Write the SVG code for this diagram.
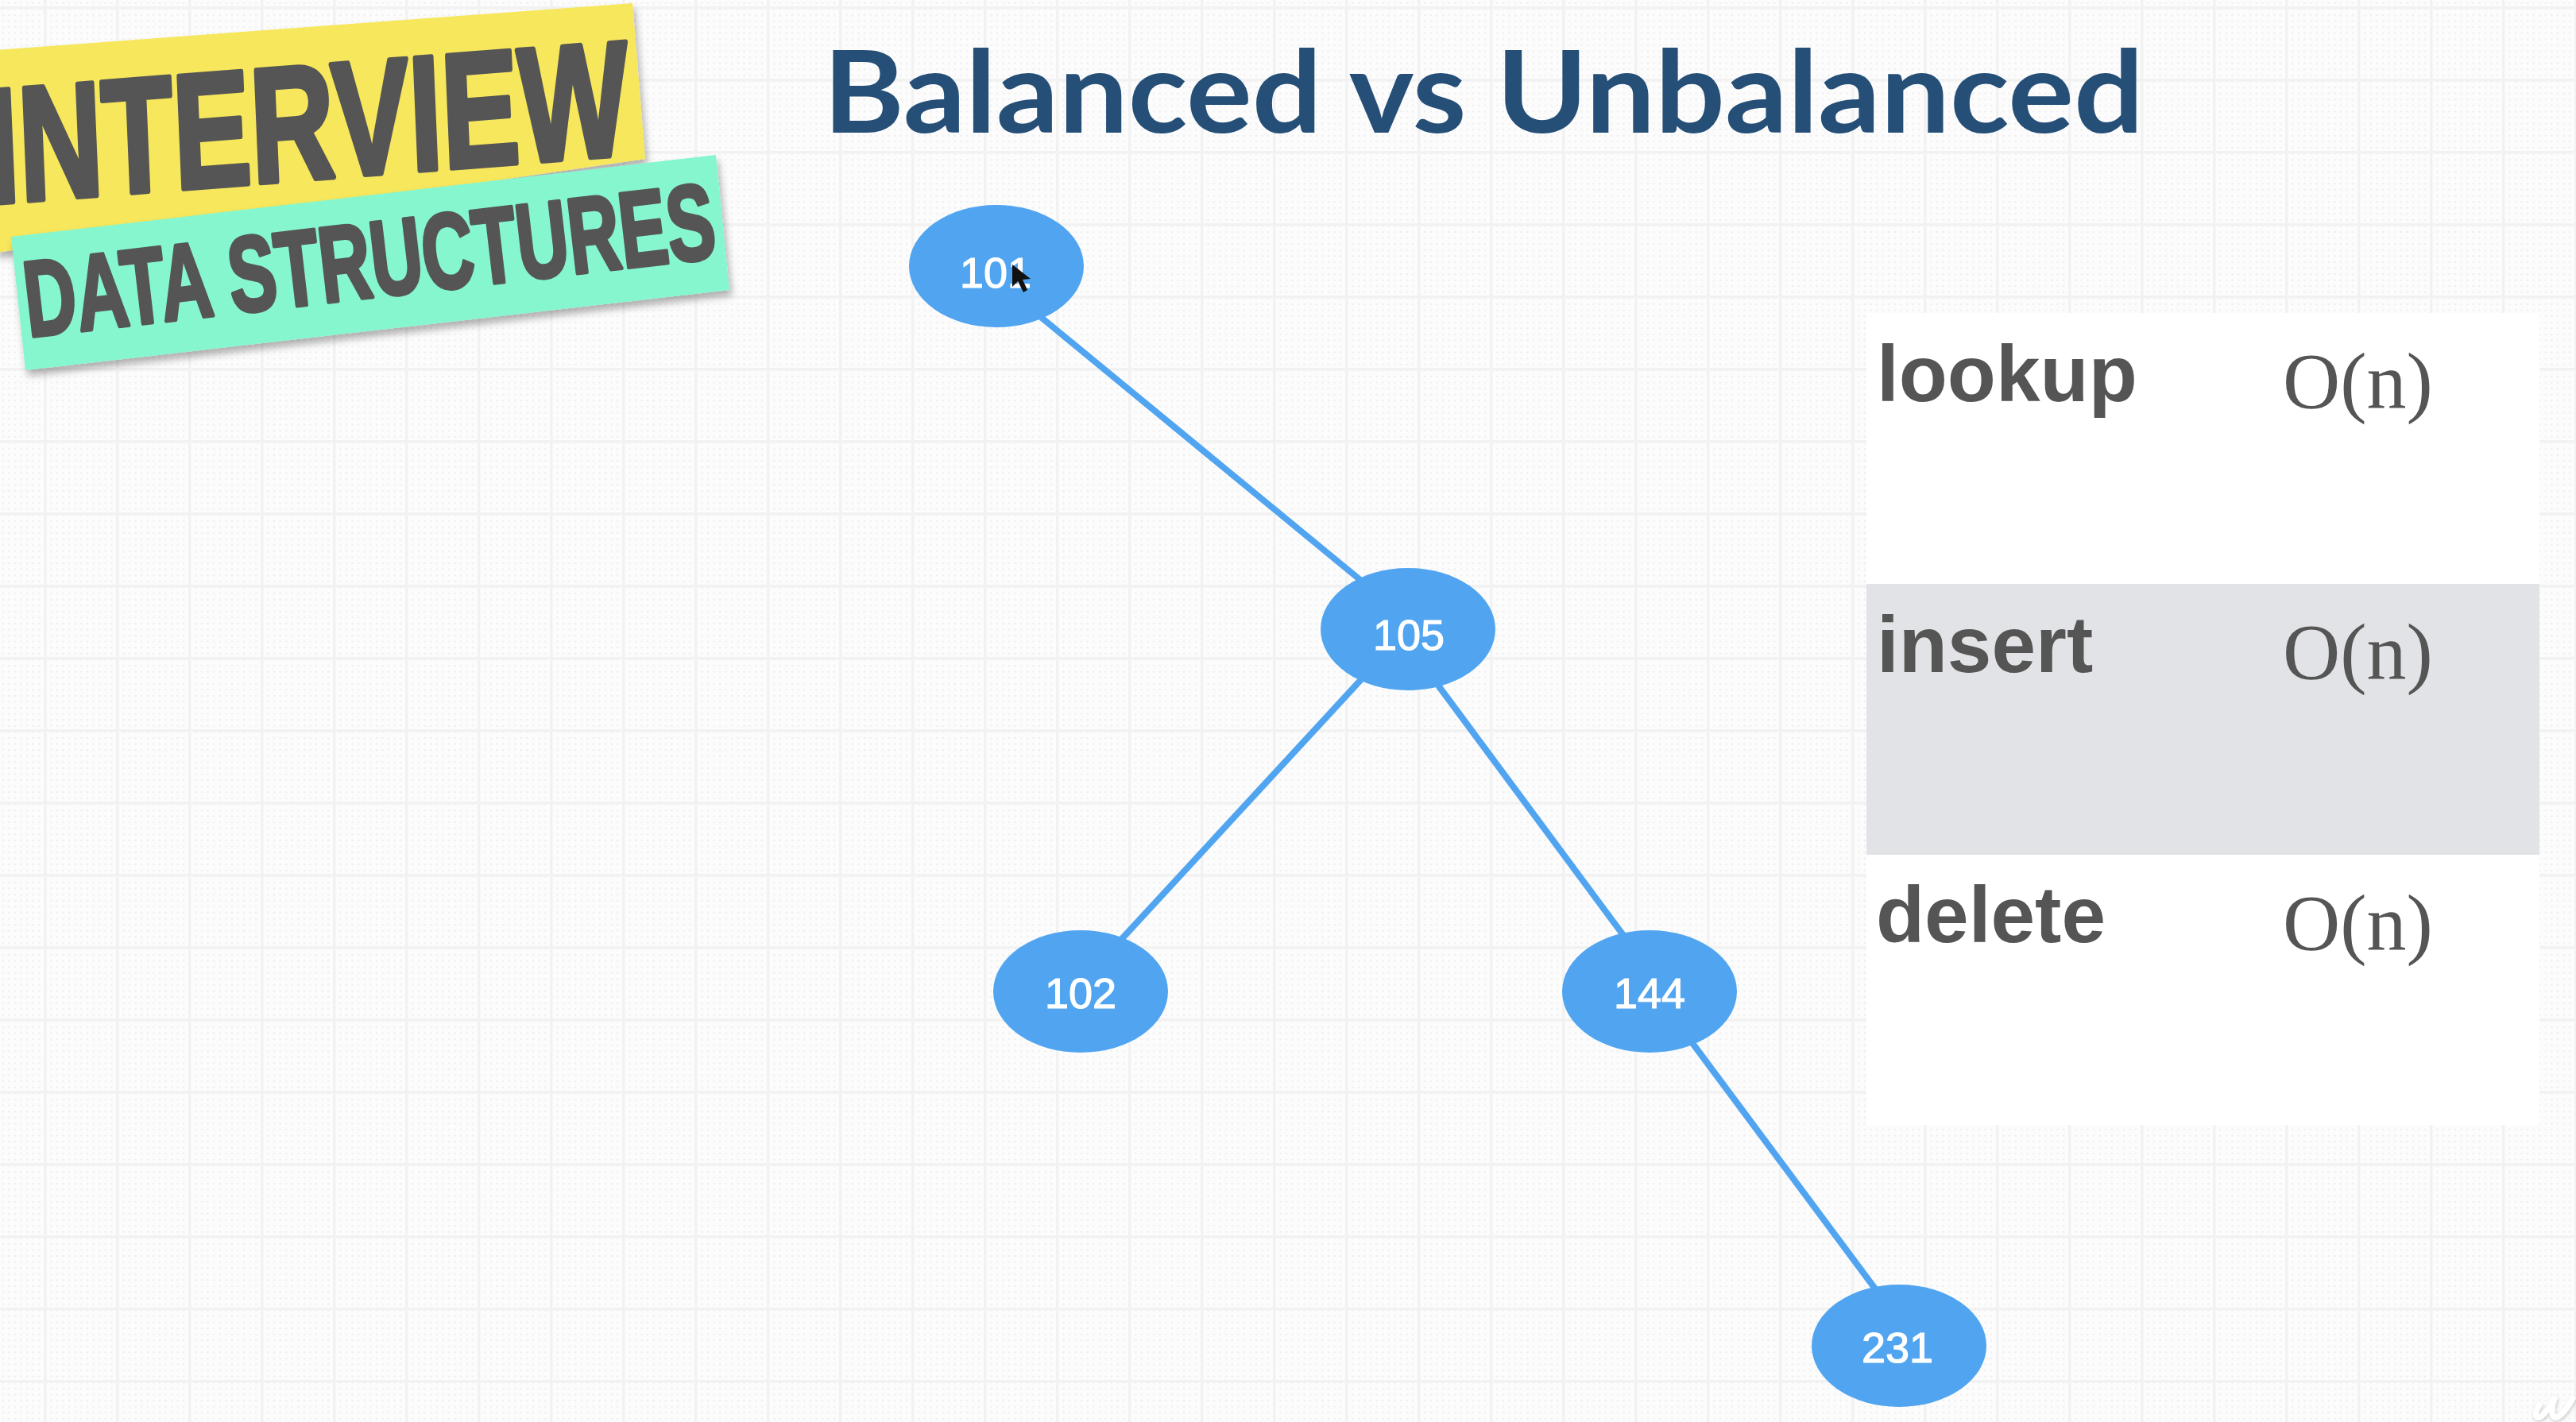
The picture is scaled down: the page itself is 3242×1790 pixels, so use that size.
<svg xmlns="http://www.w3.org/2000/svg" width="3242" height="1790" viewBox="0 0 3242 1790">
<defs>
<style>
.edge{stroke:#51a5f0;stroke-width:8;fill:none}
.node{fill:#51a5f0}
.nl{font-family:"Liberation Sans",Arial,sans-serif;font-size:54px;fill:#fff;stroke:#fff;stroke-width:1.2;text-anchor:middle}
.op{font-family:"Liberation Sans",Arial,sans-serif;font-weight:700;font-size:100px;fill:#555}
.big{font-family:"Liberation Serif","Times New Roman",serif;font-size:100px;fill:#555}
.tag{font-family:"Liberation Sans Narrow","Liberation Sans",Arial,sans-serif;font-weight:700;fill:#555;stroke:#555;stroke-linejoin:round}
</style>
<pattern id="dots" width="7.583" height="7.583" patternUnits="userSpaceOnUse" x="0" y="0"><circle cx="3.8" cy="3.8" r="1.3" fill="#eeeeee"/></pattern>
<pattern id="grid" width="91" height="91" patternUnits="userSpaceOnUse" x="55" y="8"><rect width="91" height="3.5" fill="#f2f2f2"/><rect width="3.5" height="91" fill="#f2f2f2"/></pattern>
<filter id="sh" x="-5%" y="-10%" width="110%" height="125%"><feDropShadow dx="3" dy="7" stdDeviation="5" flood-color="#000" flood-opacity="0.3"/></filter>
<filter id="wm" x="-30%" y="-30%" width="160%" height="160%"><feDropShadow dx="1" dy="2" stdDeviation="2" flood-color="#000" flood-opacity="0.2"/></filter>
</defs>
<rect id="background" width="3242" height="1790" fill="#fcfcfc"/>
<rect width="3242" height="1790" fill="url(#dots)"/>
<rect width="3242" height="1790" fill="url(#grid)"/>

<g id="badge-interview">
<polygon points="-5,63 796,4 812,200 -5,318" fill="#f6e75c" filter="url(#sh)"/>
<text class="tag" transform="translate(-14,256) rotate(-4.4) skewX(-2)" font-size="205" textLength="810" lengthAdjust="spacingAndGlyphs" stroke-width="7">INTERVIEW</text>
</g>
<g id="badge-data-structures">
<polygon points="14,298 901,195 918,365 32,466" fill="#86f6cf" filter="url(#sh)"/>
<text class="tag" transform="translate(36,424) rotate(-6.6)" font-size="135" textLength="874" lengthAdjust="spacingAndGlyphs" stroke-width="5">DATA STRUCTURES</text>
</g>

<g id="title"><text x="1036" y="167" font-family="Lato,'Noto Sans',sans-serif" font-weight="700" font-size="144" fill="#264f78" textLength="1662" lengthAdjust="spacingAndGlyphs">Balanced vs Unbalanced</text></g>

<g id="connectors">
<line class="edge" x1="1300" y1="391" x2="1718" y2="735"/>
<line class="edge" x1="1718" y1="850" x2="1408" y2="1186"/>
<line class="edge" x1="1805" y1="856" x2="2048" y2="1184"/>
<line class="edge" x1="2124" y1="1305" x2="2362" y2="1625"/>
</g>

<g id="node-101"><ellipse class="node" cx="1254" cy="335" rx="110" ry="77"/><text class="nl" x="1253" y="362">101</text></g>
<g id="node-105"><ellipse class="node" cx="1772" cy="792" rx="110" ry="77"/><text class="nl" x="1773" y="818">105</text></g>
<g id="node-102"><ellipse class="node" cx="1360" cy="1248" rx="110" ry="77"/><text class="nl" x="1360" y="1269">102</text></g>
<g id="node-144"><ellipse class="node" cx="2076" cy="1248" rx="110" ry="77"/><text class="nl" x="2076" y="1269">144</text></g>
<g id="node-231"><ellipse class="node" cx="2390" cy="1694" rx="110" ry="77"/><text class="nl" x="2388" y="1715">231</text></g>

<g id="complexity-table">
<rect x="2349" y="394" width="847" height="341" fill="#fff"/>
<rect x="2349" y="735" width="847" height="341" fill="#e2e3e6"/>
<rect x="2349" y="1076" width="847" height="340" fill="#fff"/>
<text class="op" x="2362" y="505">lookup</text><text class="big" x="2873" y="513">O(n)</text>
<text class="op" x="2362" y="846">insert</text><text class="big" x="2873" y="854">O(n)</text>
<text class="op" x="2361" y="1186">delete</text><text class="big" x="2873" y="1195">O(n)</text>
</g>

<polygon id="cursor" points="1274,333 1274,361 1281,354 1288,368 1293,365 1287,352 1297,351" fill="#111"/>
<path id="watermark" d="M3196 1768C3190 1778 3190 1786 3196 1784C3204 1780 3212 1766 3216 1758C3210 1772 3210 1786 3218 1784C3226 1780 3234 1768 3238 1760" fill="none" stroke="#fff" stroke-width="7" stroke-linecap="round" filter="url(#wm)"/>
</svg>
